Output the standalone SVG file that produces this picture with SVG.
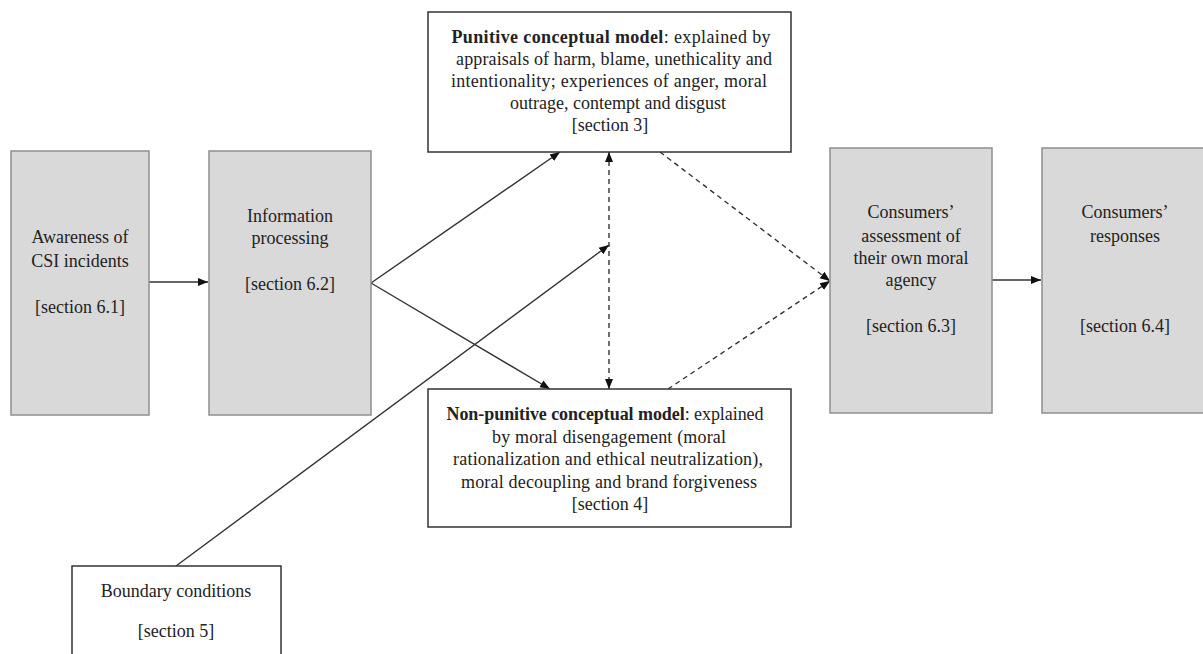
<svg xmlns="http://www.w3.org/2000/svg" width="1203" height="654" viewBox="0 0 1203 654">
<style>
.gray{fill:#d9d9d9;stroke:#8f8f8f;stroke-width:1.5}
.white{fill:#fff;stroke:#333;stroke-width:1.5}
text{font-family:"Liberation Serif","Times New Roman",serif;font-size:18px;fill:#222;text-anchor:middle}
.b{font-weight:bold}
.line{fill:none;stroke:#333;stroke-width:1.4}
.dash{stroke-dasharray:5,4}
</style>
<defs>
<marker id="ah" viewBox="0 0 10 10" refX="10" refY="5" markerWidth="10" markerHeight="10" markerUnits="userSpaceOnUse" orient="auto-start-reverse">
<path d="M0,1 L10,5 L0,9 Z" fill="#111"/>
</marker>
</defs>
<rect width="1203" height="654" fill="#fff"/>
<g id="connectors">
<line class="line" x1="149" y1="282" x2="208" y2="282" marker-end="url(#ah)"/>
<line class="line" x1="371" y1="283" x2="560" y2="152" marker-end="url(#ah)"/>
<line class="line" x1="371" y1="283" x2="550" y2="389" marker-end="url(#ah)"/>
<line class="line" x1="176" y1="566" x2="609" y2="245" marker-end="url(#ah)"/>
<line class="line dash" x1="609" y1="152" x2="609" y2="389" marker-start="url(#ah)" marker-end="url(#ah)"/>
<line class="line dash" x1="660" y1="152" x2="830" y2="281" marker-end="url(#ah)"/>
<line class="line dash" x1="668" y1="389" x2="830" y2="281" marker-end="url(#ah)"/>
<line class="line" x1="992" y1="280" x2="1041" y2="280" marker-end="url(#ah)"/>
</g>
<g id="awareness">
<rect class="gray" x="11" y="151" width="138" height="264"/>
<text x="80" y="243">Awareness of</text>
<text x="80" y="267">CSI incidents</text>
<text x="80" y="313">[section 6.1]</text>
</g>
<g id="information">
<rect class="gray" x="209" y="151" width="162" height="264"/>
<text x="290" y="222">Information</text>
<text x="290" y="244">processing</text>
<text x="290" y="290">[section 6.2]</text>
</g>
<g id="punitive">
<rect class="white" x="428" y="12" width="363" height="140"/>
<text x="611" y="43" textLength="319" lengthAdjust="spacing"><tspan class="b">Punitive conceptual model</tspan>: explained by</text>
<text x="614" y="65" textLength="316" lengthAdjust="spacing">appraisals of harm, blame, unethicality and</text>
<text x="609" y="87" textLength="316" lengthAdjust="spacing">intentionality; experiences of anger, moral</text>
<text x="618" y="109">outrage, contempt and disgust</text>
<text x="610" y="131">[section 3]</text>
</g>
<g id="nonpunitive">
<rect class="white" x="428" y="389" width="363" height="138"/>
<text x="605" y="420" textLength="317" lengthAdjust="spacing"><tspan class="b">Non-punitive conceptual model</tspan>: explained</text>
<text x="609" y="443" textLength="234" lengthAdjust="spacing">by moral disengagement (moral</text>
<text x="608" y="465" textLength="310" lengthAdjust="spacing">rationalization and ethical neutralization),</text>
<text x="609" y="488" textLength="296" lengthAdjust="spacing">moral decoupling and brand forgiveness</text>
<text x="610" y="510">[section 4]</text>
</g>
<g id="boundary">
<rect class="white" x="72" y="566" width="209" height="100"/>
<text x="176" y="597">Boundary conditions</text>
<text x="176" y="637">[section 5]</text>
</g>
<g id="assessment">
<rect class="gray" x="830" y="148" width="162" height="265"/>
<text x="911" y="218">Consumers’</text>
<text x="911" y="242">assessment of</text>
<text x="911" y="264">their own moral</text>
<text x="911" y="286">agency</text>
<text x="911" y="332">[section 6.3]</text>
</g>
<g id="responses">
<rect class="gray" x="1042" y="148" width="166" height="265"/>
<text x="1125" y="218">Consumers’</text>
<text x="1125" y="242">responses</text>
<text x="1125" y="332">[section 6.4]</text>
</g>
</svg>
